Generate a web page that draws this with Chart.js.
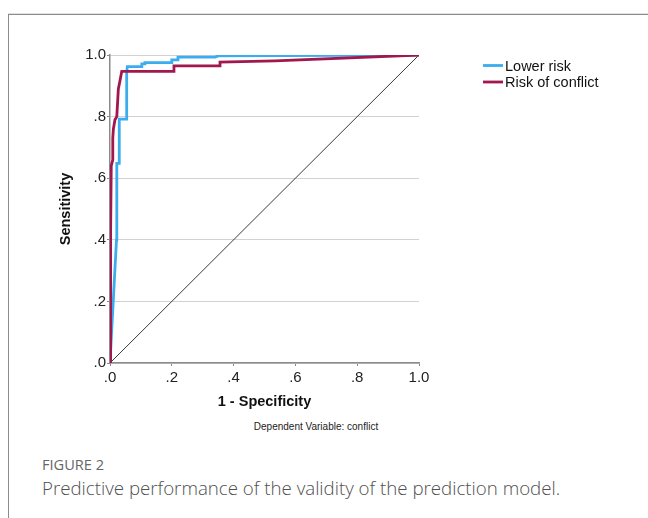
<!DOCTYPE html>
<html>
<head>
<meta charset="utf-8">
<script src="https://cdn.jsdelivr.net/npm/chart.js@4.4.1/dist/chart.umd.min.js"></script>
<style>
    html, body { margin: 0; padding: 0; background: #fff; }
    body { width: 648px; height: 518px; position: relative; overflow: hidden; }
    .frame {
        position: absolute; left: 8px; top: 14px; right: -2px; bottom: -2px;
        border-top: 1px solid #8c8c8c; border-left: 1px solid #8c8c8c;
        box-shadow: 0 -1px 0 #e2e2e2;
    }
    #wrap { position: absolute; left: 9px; top: 15px; width: 639px; height: 400px; }
    .dep {
        position: absolute; top: 421px; left: 216px; width: 200px; text-align: center;
        font: 10px "Liberation Sans", Arial, sans-serif; color: #222;
    }
    .fig {
        position: absolute; left: 42px; top: 454px;
        font: 500 14.6px "Open Sans", sans-serif; color: #666;
    }
    .caption {
        position: absolute; left: 42px; top: 475px;
        font: 300 18.7px "Open Sans", sans-serif; color: #505050;
    }
</style>
</head>
<body>
<div class="frame"></div>
<div id="wrap"><canvas id="roc"></canvas></div>
<div class="dep">Dependent Variable: conflict</div>
<div class="fig">FIGURE 2</div>
<div class="caption">Predictive performance of the validity of the prediction model.</div>
<script>
// ROC curve corners (1 - specificity, sensitivity)
const lowerFpr = [0, 0.021, 0.022, 0.030, 0.030, 0.054, 0.054, 0.056, 0.103, 0.103, 0.113, 0.113, 0.200, 0.200, 0.220, 0.220, 0.340, 0.350, 0.560, 1];
const lowerTpr = [0, 0.400, 0.648, 0.648, 0.792, 0.792, 0.940, 0.962, 0.962, 0.971, 0.971, 0.975, 0.975, 0.984, 0.984, 0.993, 0.993, 0.997, 0.998, 1];

const conflictFpr = [0, 0.002, 0.004, 0.009, 0.009, 0.011, 0.016, 0.022, 0.027, 0.032, 0.038, 0.207, 0.207, 0.356, 0.356, 0.534, 1];
const conflictTpr = [0, 0.430, 0.640, 0.660, 0.730, 0.760, 0.790, 0.800, 0.890, 0.915, 0.947, 0.947, 0.965, 0.965, 0.977, 0.981, 1];

const refLine = [0, 1];
const tickLabels = ['.0', '.2', '.4', '.6', '.8', '1.0'];
const seriesNames = ['Lower risk', 'Risk of conflict'];

function toPoints(xs, ys) {
    return xs.map((x, i) => ({ x: x, y: ys[i] }));
}

Chart.defaults.font.family = '"Liberation Sans", Arial, sans-serif';
Chart.defaults.color = '#222';

// simple line legend drawn to the right of the plot
const lineLegend = {
    id: 'lineLegend',
    afterDraw(chart) {
        const ctx = chart.ctx;
        ctx.save();
        ctx.font = '14.5px "Liberation Sans", Arial, sans-serif';
        ctx.textBaseline = 'middle';
        seriesNames.forEach((name, i) => {
            const ds = chart.data.datasets[i];
            const y = 50.5 + i * 16.5;
            ctx.strokeStyle = ds.borderColor;
            ctx.lineWidth = 2.8;
            ctx.beginPath();
            ctx.moveTo(474, y);
            ctx.lineTo(494, y);
            ctx.stroke();
            ctx.fillStyle = '#111';
            ctx.fillText(name, 496, y + 1);
        });
        ctx.restore();
    }
};

const ctx = document.getElementById('roc').getContext('2d');
const rocChart = new Chart(ctx, {
    type: 'scatter',
    data: {
        datasets: [{
            label: seriesNames[0],
            data: toPoints(lowerFpr, lowerTpr),
            showLine: true,
            borderColor: '#3badef',
            borderWidth: 2.8,
            pointRadius: 0,
            order: 1
        }, {
            label: seriesNames[1],
            data: toPoints(conflictFpr, conflictTpr),
            showLine: true,
            borderColor: '#a0184e',
            borderWidth: 2.8,
            pointRadius: 0,
            order: 0
        }, {
            label: 'Reference',
            data: toPoints(refLine, refLine),
            showLine: true,
            borderColor: '#3a3a3a',
            borderWidth: 1,
            pointRadius: 0,
            order: 2
        }]
    },
    options: {
        responsive: true,
        maintainAspectRatio: false,
        animation: false,
        layout: { padding: { left: 0, right: 229, top: 40, bottom: 0 } },
        plugins: {
            legend: { display: false },
            tooltip: { enabled: false }
        },
        scales: {
            x: {
                type: 'linear',
                min: 0,
                max: 1,
                afterFit: function(scale) { scale.height = 52; },
                ticks: {
                    stepSize: 0.2,
                    padding: 3,
                    maxRotation: 0,
                    font: { size: 15 },
                    color: '#222',
                    callback: function(value, index) { return tickLabels[index]; }
                },
                grid: { drawOnChartArea: false, drawTicks: true, tickLength: 3, tickColor: '#888' },
                border: { color: '#8a8a8a', width: 1.5 },
                title: {
                    display: true,
                    text: '1 - Specificity',
                    font: { size: 14.5, weight: 'bold' },
                    color: '#111',
                    padding: { top: 0, bottom: 4 }
                }
            },
            y: {
                type: 'linear',
                min: 0,
                max: 1,
                afterFit: function(scale) { scale.width = 101; },
                ticks: {
                    stepSize: 0.2,
                    padding: 1,
                    font: { size: 15 },
                    color: '#222',
                    callback: function(value, index) { return tickLabels[index]; }
                },
                grid: { color: '#d2d2d2', lineWidth: 1, drawTicks: true, tickLength: 3, tickColor: '#888' },
                border: { color: '#8a8a8a', width: 1.5 },
                title: {
                    display: true,
                    text: 'Sensitivity',
                    font: { size: 14.5, weight: 'bold' },
                    color: '#111',
                    padding: { top: 48, bottom: 0 }
                }
            }
        }
    },
    plugins: [lineLegend]
});
</script>
</body>
</html>
